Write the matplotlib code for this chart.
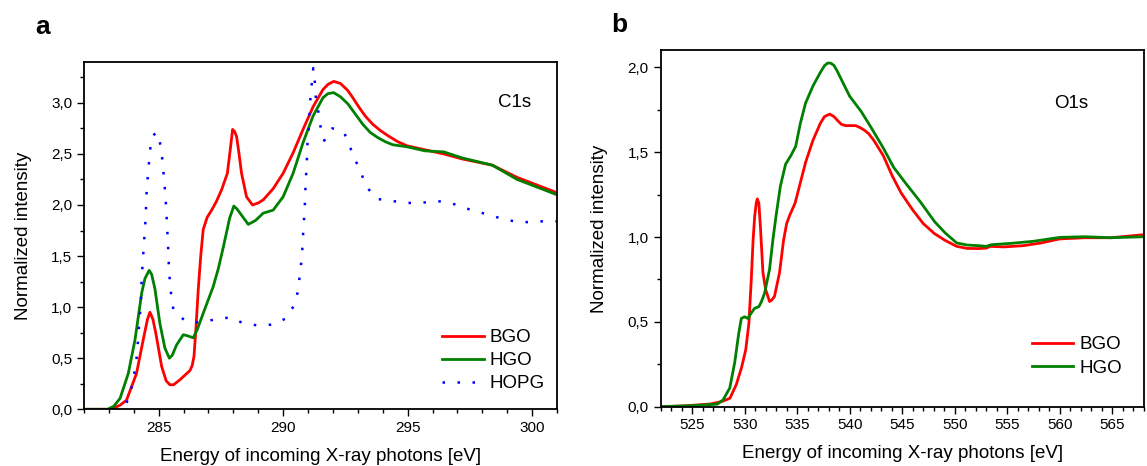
import matplotlib
matplotlib.use('Agg')
import matplotlib.pyplot as plt
from matplotlib.ticker import MultipleLocator, FuncFormatter

plt.rcParams['font.family'] = ['Liberation Sans', 'DejaVu Sans']

# ---- panel a: C1s ----
c_bgo_e = [282.0, 283.0, 283.18, 283.45, 283.71, 284.11, 284.38, 284.55, 284.65, 284.77, 284.89,
           285.12, 285.3, 285.45, 285.6, 285.86, 286.26, 286.35, 286.42, 286.5, 286.59, 286.69,
           286.79, 286.95, 287.13, 287.33, 287.53, 287.76, 287.88, 287.97, 288.05, 288.13,
           288.23, 288.33, 288.53, 288.77, 289.0, 289.2, 289.6, 290.0, 290.4, 290.8, 291.2,
           291.6, 291.8, 292.03, 292.3, 292.6, 292.8, 293.04, 293.3, 293.6, 293.9, 294.2,
           294.6, 294.97, 295.7, 296.45, 297.2, 298.4, 299.4, 301.0]
c_bgo_i = [0.0, 0.0, 0.01, 0.04, 0.09, 0.35, 0.68, 0.88, 0.95, 0.88, 0.74,
           0.42, 0.28, 0.24, 0.24, 0.29, 0.38, 0.43, 0.52, 0.8, 1.17, 1.5,
           1.76, 1.88, 1.95, 2.04, 2.15, 2.31, 2.55, 2.74, 2.72, 2.67,
           2.50, 2.31, 2.08, 2.00, 2.02, 2.05, 2.16, 2.31, 2.51, 2.74, 2.96,
           3.13, 3.18, 3.21, 3.19, 3.12, 3.05, 2.96, 2.87, 2.79, 2.73, 2.68,
           2.62, 2.58, 2.54, 2.50, 2.45, 2.39, 2.27, 2.12]

c_hgo_e = [282.0, 282.95, 283.2, 283.45, 283.78, 284.05, 284.32, 284.45, 284.62, 284.72, 284.85,
           285.05, 285.25, 285.43, 285.55, 285.72, 285.99, 286.15, 286.39, 286.55, 286.79, 287.19,
           287.4, 287.6, 287.85, 288.02, 288.15, 288.27, 288.6, 288.9, 289.2, 289.6, 290.0,
           290.4, 290.8, 291.2, 291.6, 291.8, 292.03, 292.3, 292.6, 292.9, 293.2, 293.5,
           293.8, 294.1, 294.4, 294.97, 295.7, 296.45, 297.2, 298.4, 299.4, 301.0]
c_hgo_i = [0.0, 0.0, 0.03, 0.107, 0.35, 0.68, 1.14, 1.28, 1.36, 1.32, 1.18,
           0.84, 0.60, 0.50, 0.53, 0.63, 0.73, 0.72, 0.70, 0.78, 0.94, 1.20,
           1.38, 1.59, 1.87, 1.99, 1.96, 1.92, 1.81, 1.85, 1.92, 1.95, 2.08,
           2.31, 2.61, 2.87, 3.05, 3.09, 3.10, 3.06, 2.99, 2.89, 2.79, 2.71,
           2.66, 2.62, 2.59, 2.57, 2.53, 2.52, 2.46, 2.39, 2.25, 2.10]

c_hopg_e = [282.0, 283.4, 283.71, 283.91, 284.02, 284.11, 284.16, 284.2, 284.25, 284.29, 284.31,
            284.34, 284.38, 284.42, 284.46, 284.49, 284.51, 284.55, 284.6, 284.65, 284.74, 284.9,
            284.98, 285.09, 285.16, 285.21, 285.26, 285.3, 285.33, 285.36, 285.39, 285.41,
            285.45, 285.51, 285.59, 285.8, 286.1, 286.67, 287.27, 287.88, 288.42, 289.01,
            289.62, 290.11, 290.45, 290.61, 290.67, 290.74, 290.78, 290.81, 290.85, 290.88,
            290.9, 290.93, 290.96, 290.98, 291.04, 291.06, 291.1, 291.16, 291.21, 291.27,
            291.31, 291.41, 291.5, 291.65, 291.8, 291.97, 292.2, 292.45, 292.68, 292.92,
            293.15, 293.38, 293.75, 294.35, 294.96, 295.53, 296.14, 296.73, 297.3, 297.88,
            298.44, 299.04, 299.64, 300.25, 301.0]
c_hopg_i = [0.0, 0.0, 0.06, 0.21, 0.35, 0.49, 0.64, 0.78, 0.93, 1.08, 1.22,
            1.36, 1.51, 1.66, 1.80, 1.95, 2.10, 2.24, 2.38, 2.53, 2.67, 2.71,
            2.70, 2.56, 2.42, 2.27, 2.13, 1.98, 1.83, 1.69, 1.54, 1.40,
            1.25, 1.10, 0.98, 0.92, 0.86, 0.85, 0.88, 0.90, 0.84, 0.82,
            0.83, 0.89, 1.02, 1.17, 1.32, 1.46, 1.60, 1.75, 1.90, 2.04,
            2.19, 2.33, 2.47, 2.62, 2.77, 2.91, 3.06, 3.21, 3.34, 3.21,
            3.06, 2.92, 2.77, 2.63, 2.68, 2.75, 2.74, 2.71, 2.57, 2.43,
            2.30, 2.17, 2.06, 2.04, 2.02, 2.02, 2.04, 2.02, 1.97, 1.93,
            1.89, 1.85, 1.83, 1.84, 1.84]

# ---- panel b: O1s ----
o_bgo_e = [522.0, 524.0, 525.0, 526.75, 527.8, 528.3, 528.6, 529.2, 529.7, 530.1, 530.4,
           530.63, 530.8, 530.95, 531.1, 531.2, 531.35, 531.5, 531.74, 532.0, 532.37, 532.6,
           532.84, 533.32, 533.7, 534.0, 534.3, 534.8, 535.3, 535.8, 536.5, 537.2, 537.6,
           538.1, 538.5, 538.8, 539.2, 539.6, 540.56, 541.0, 541.4, 541.8, 542.3, 543.2,
           544.06, 544.9, 546.0, 547.0, 548.08, 549.1, 550.2, 551.2, 552.27, 553.0, 553.4,
           554.7, 556.5, 558.2, 560.0, 562.4, 564.9, 568.0]
o_bgo_i = [0.0, 0.004, 0.008, 0.016, 0.03, 0.042, 0.05, 0.13, 0.23, 0.335, 0.49,
           0.75, 0.98, 1.12, 1.20, 1.225, 1.20, 1.06, 0.79, 0.69, 0.62, 0.63,
           0.65, 0.79, 0.98, 1.08, 1.13, 1.20, 1.32, 1.44, 1.57, 1.67, 1.71,
           1.725, 1.71, 1.69, 1.665, 1.657, 1.657, 1.645, 1.63, 1.61, 1.57, 1.48,
           1.36, 1.26, 1.16, 1.08, 1.02, 0.98, 0.945, 0.933, 0.932, 0.935, 0.945,
           0.942, 0.949, 0.965, 0.989, 0.996, 0.996, 1.014]

o_hgo_e = [522.0, 525.0, 527.4, 527.94, 528.58, 529.05, 529.43, 529.68, 530.0, 530.31, 530.6,
           530.95, 531.36, 531.6, 531.9, 532.37, 532.68, 533.0, 533.4, 533.9, 534.4, 534.86,
           535.3, 535.8, 536.5, 537.2, 537.6, 537.9, 538.2, 538.5, 538.8, 539.2, 540.0,
           541.1, 542.1, 543.2, 544.2, 545.3, 546.7, 548.1, 549.1, 550.2, 551.2, 552.3,
           553.0, 553.5, 555.4, 557.5, 560.0, 562.4, 564.9, 568.0]
o_hgo_i = [0.0, 0.006, 0.015, 0.04, 0.11, 0.26, 0.43, 0.52, 0.53, 0.52, 0.55,
           0.58, 0.59, 0.62, 0.67, 0.81, 0.98, 1.13, 1.30, 1.43, 1.48, 1.535,
           1.67, 1.79, 1.89, 1.97, 2.01, 2.026, 2.025, 2.012, 1.98, 1.93, 1.83,
           1.74, 1.64, 1.525, 1.41, 1.32, 1.21, 1.09, 1.024, 0.965, 0.953, 0.949,
           0.945, 0.955, 0.963, 0.975, 0.998, 1.002, 0.996, 1.002]

RED = '#ff0000'
GREEN = '#008000'
BLUE = '#0000ff'
FS = 13.5


def comma(v, pos):
    return ('%.1f' % v).replace('.', ',')


def style(ax):
    ax.xaxis.set_minor_locator(MultipleLocator(1))
    ax.yaxis.set_major_locator(MultipleLocator(0.5))
    ax.yaxis.set_minor_locator(MultipleLocator(0.25))
    ax.yaxis.set_major_formatter(FuncFormatter(comma))
    ax.tick_params(which='both', direction='out', top=False, right=False, labelsize=11)
    ax.tick_params(which='major', length=5, width=1)
    ax.tick_params(which='minor', length=3, width=1)
    for s in ax.spines.values():
        s.set_linewidth(1.3)
    ax.set_xlabel('Energy of incoming X-ray photons [eV]', fontsize=FS, labelpad=9)
    ax.set_ylabel('Normalized intensity', fontsize=FS, labelpad=14)


fig = plt.figure(figsize=(11.47, 4.66), dpi=100)

ax1 = fig.add_axes([0.0732, 0.1217, 0.4124, 0.7453])
ax1.plot(c_bgo_e, c_bgo_i, color=RED, lw=2.0, label='BGO')
ax1.plot(c_hgo_e, c_hgo_i, color=GREEN, lw=2.0, label='HGO')
ax1.plot(c_hopg_e, c_hopg_i, color=BLUE, lw=1.8, linestyle=(0, (1, 5)), label='HOPG')
ax1.set_xlim(282, 301)
ax1.set_ylim(0, 3.4)
ax1.set_xticks([285, 290, 295, 300])
style(ax1)
ax1.text(0.911, 0.883, 'C1s', transform=ax1.transAxes, fontsize=FS, ha='center', va='center')
ax1.legend(loc='lower right', bbox_to_anchor=(1.01, 0.0), frameon=False, fontsize=FS,
           handlelength=2.2, handletextpad=0.32, labelspacing=0.32)

ax2 = fig.add_axes([0.576, 0.1273, 0.4211, 0.7644])
ax2.plot(o_bgo_e, o_bgo_i, color=RED, lw=2.0, label='BGO')
ax2.plot(o_hgo_e, o_hgo_i, color=GREEN, lw=2.0, label='HGO')
ax2.set_xlim(522, 568)
ax2.set_ylim(0, 2.1)
ax2.set_xticks(range(525, 566, 5))
style(ax2)
ax2.text(0.849, 0.85, 'O1s', transform=ax2.transAxes, fontsize=FS, ha='center', va='center')
ax2.legend(loc='lower right', bbox_to_anchor=(0.99, 0.037), frameon=False, fontsize=FS,
           handlelength=2.2, handletextpad=0.32, labelspacing=0.32)

fig.text(42.6 / 1147, 1 - 26.5 / 466, 'a', fontsize=19, fontweight='bold', ha='center', va='center')
fig.text(619 / 1147, 1 - 25 / 466, 'b', fontsize=19, fontweight='bold', ha='center', va='center')

fig.savefig('out.png', dpi=100)
